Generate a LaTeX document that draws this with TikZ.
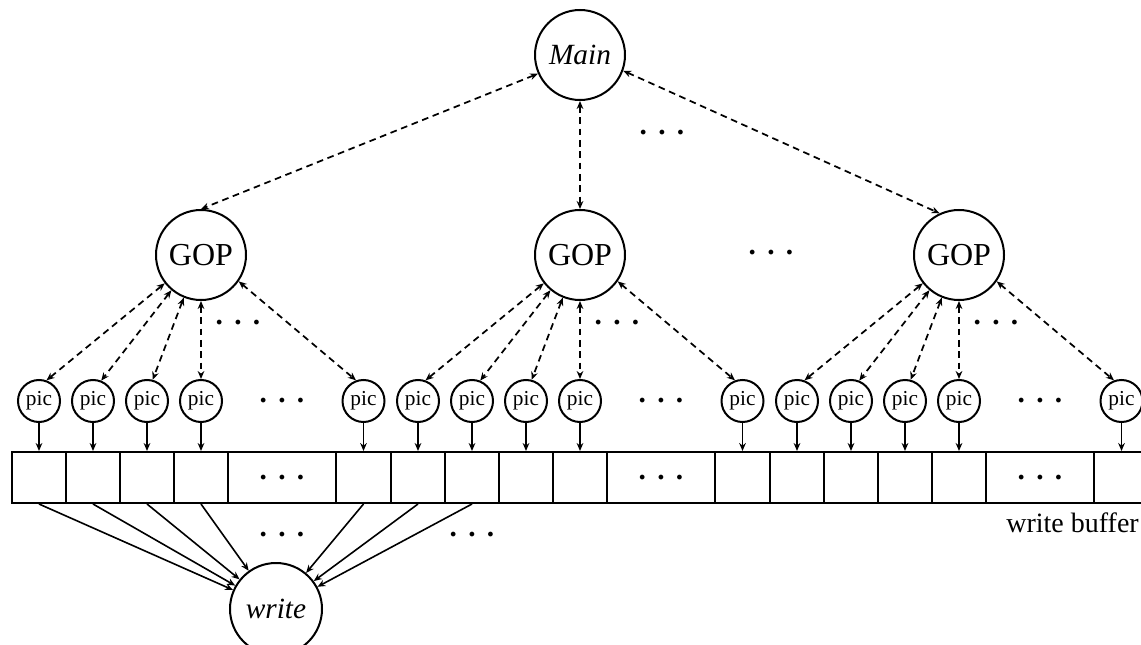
\documentclass[tikz,border=0pt]{standalone}
\usepackage{fontspec}
\setmainfont{Liberation Serif}
\usetikzlibrary{arrows.meta}
\usetikzlibrary{positioning}

\tikzset{
  proc/.style={circle, draw, line width=1.5pt, inner sep=0pt},
  bigproc/.style={proc, minimum size=67.5pt},
  picproc/.style={proc, minimum size=31.5pt, font=\fontsize{16}{16}\selectfont},
  cell/.style={draw, line width=1.5pt, minimum height=38.25pt, inner sep=0pt},
  link/.style={line width=1.3pt, dash pattern=on 5pt off 3.5pt,
    {Stealth[length=6pt,width=5pt]}-{Stealth[length=6pt,width=5pt]}},
  feed/.style={line width=1.2pt, -{Stealth[length=6pt,width=5pt]}},
  gap/.style={font=\fontsize{22}{22}\selectfont\bfseries, inner sep=0pt},
}
\newcommand{\gapdots}{.\hspace{8.5pt}.\hspace{8.5pt}.}

\begin{document}
\begin{tikzpicture}[x=0.75pt,y=0.75pt,yscale=-1,xscale=1]
\useasboundingbox (0,0) rectangle (1141,645);
\clip (0,0) rectangle (1141,645);

%Shape: Circle (top process)
\node[bigproc, font=\fontsize{22}{22}\selectfont\itshape] (main) at (580,55) {Main};

%three groups: buffer cells, pic circles, GOP circle
\foreach \g in {0,1,2}{
  \pgfmathsetmacro{\bx}{12+379*\g}
  %Shape: Rectangle cells
  \foreach \i/\cx/\w in {1/27/40.5, 2/81/40.5, 3/135/40.5, 4/189/40.5, 5/270/81, 6/351.5/41.25}
    \node[cell, minimum width=\w pt] (c\g-\i) at ({\bx+\cx},477.5) {};
  \node[gap] at (c\g-5) {\gapdots};
  %Shape: Circle pics
  \foreach \i in {1,2,3,4,6}{
    \node[picproc, above=21pt of c\g-\i] (p\g-\i) {pic};
    \draw[feed] (p\g-\i) -- (c\g-\i);
  }
  \node[gap] at (c\g-5 |- p\g-1) {\gapdots};
  %Shape: Circle GOP
  \node[bigproc, font=\fontsize{24}{24}\selectfont] (gop\g) at ({\bx+189},255) {GOP};
  \draw[link] (gop\g.218) -- (p\g-1.70);
  \draw[link] (gop\g.230) -- (p\g-2.68);
  \draw[link] (gop\g.248) -- (p\g-3.75);
  \draw[link] (gop\g.south) -- (p\g-4.north);
  \draw[link] (gop\g.325) -- (p\g-6.110);
  \node[gap] at ({\bx+226},323) {\gapdots};
}

%Dashed lines to the GOPs
\draw[link] (main.204) -- (gop0.north);
\draw[link] (main) -- (gop1);
\draw[link] (main.340) -- (gop2.115);
\node[gap] at (662,133) {\gapdots};
\node[gap] at (771,253) {\gapdots};

%Shape: Circle (writer)
\node[bigproc, minimum size=69pt, font=\fontsize{22}{22}\selectfont\itshape] (write) at (276,609) {write};
\foreach \c in {0-1,0-2,0-3,0-4,0-6,1-1,1-2}
  \draw[feed] (c\c.south) -- (write);
\node[gap] at (282,535) {\gapdots};
\node[gap] at (472,535) {\gapdots};

\node[anchor=east, inner sep=0pt, font=\fontsize{21}{21}\selectfont] (wbuf) at (1139,523) {write buffer};

\end{tikzpicture}
\end{document}
